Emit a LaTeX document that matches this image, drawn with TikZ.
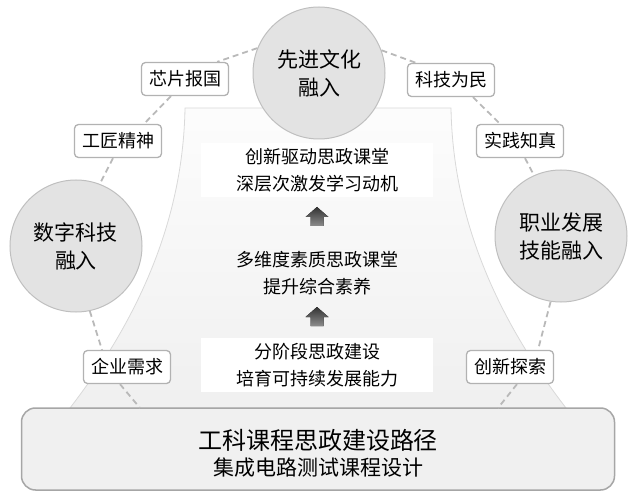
\documentclass[tikz,border=0pt]{standalone}
\usepackage{fontspec}
\newfontfamily\cjk{Noto Sans CJK SC}

\tikzset{
  theme/.style={circle,draw=gray!50,fill=gray!22,line width=1pt,minimum size=132pt,inner sep=0pt,align=center,font=\cjk\fontsize{21}{28}\selectfont},
  tag/.style={draw=gray!60,fill=white,rounded corners=4pt,line width=1.3pt,minimum width=87pt,minimum height=33pt,inner sep=0pt,font=\cjk\fontsize{18}{20}\selectfont},
  link/.style={draw=gray!55,dashed,dash pattern=on 6pt off 4pt,line width=1.8pt},
  stage/.style={align=center,inner sep=5pt,minimum width=232pt,font=\cjk\fontsize{18}{27}\selectfont},
  blockup/.pic={
    \fill[top color=black!80,bottom color=black!45]
      (0,-10) -- (11.5,0) -- (6.5,0) -- (6.5,9) -- (-6.5,9) -- (-6.5,0) -- (-11.5,0) -- cycle;
  },
  pathbox/.style={draw=gray!70,fill=gray!12,rounded corners=14pt,line width=1.5pt,minimum width=593pt,minimum height=82pt,align=center,inner sep=0pt}
}

\begin{document}
\begin{tikzpicture}[x=1pt,y=-1pt]
  \useasboundingbox (0,0) rectangle (630,492);

  % bell-shaped background
  \path[draw=gray!30,line width=0.8pt,top color=gray!2,bottom color=gray!12]
    (70,408) .. controls (130,330) and (183,230) .. (185,108) -- (451,108)
    .. controls (453,230) and (506,330) .. (566,408) -- cycle;

  \node[stage,fill=white] (drive) at (317,170) {创新驱动思政课堂\\深层次激发学习动机};
  \pic (up1) at (317,217) {blockup};
  \node[stage] (quality) at (317,273) {多维度素质思政课堂\\提升综合素养};
  \pic (up2) at (317,317) {blockup};
  \node[stage,fill=white] (phase) at (317,365) {分阶段思政建设\\培育可持续发展能力};

  \node[pathbox] (path) at (318,449) {{\fontsize{24}{28}\selectfont\cjk\rule{0pt}{29pt}工科课程思政建设路径}\\[5pt]{\fontsize{21}{26}\selectfont\cjk 集成电路测试课程设计}};
  \coordinate (leftfoot) at (140,408);
  \coordinate (rightfoot) at (498,408);

  \node[theme] (culture) at (319,73) {先进文化\\融入};
  \node[theme] (digital) at (76,246) {数字科技\\融入};
  \node[theme] (career) at (561,236) {职业发展\\技能融入};

  \node[tag] (chip) at (185,79) {芯片报国};
  \node[tag] (craft) at (118,141) {工匠精神};
  \node[tag] (demand) at (127,367) {企业需求};
  \node[tag] (people) at (451,80) {科技为民};
  \node[tag] (practice) at (520,141) {实践知真};
  \node[tag] (explore) at (510,367) {创新探索};

  \draw[link] (culture.158) -- ([xshift=-12pt]chip.north east);
  \draw[link] ([xshift=-14pt]chip.south) -- ([xshift=26pt]craft.north);
  \draw[link] ([xshift=-5pt]craft.south) -- (digital.69);
  \draw[link] (digital.282) -- ([xshift=-25pt]demand.north);
  \draw[link] ([xshift=-7pt]demand.south) -- (leftfoot);
  \draw[link] (culture.20) -- ([xshift=-35pt]people.north);
  \draw[link] ([xshift=22pt]people.south) -- ([xshift=-20pt]practice.north);
  \draw[link] ([xshift=5pt]practice.south) -- (career.114);
  \draw[link] (career.261) -- ([xshift=28pt]explore.north);
  \draw[link] ([xshift=7pt]explore.south) -- (rightfoot);
\end{tikzpicture}
\end{document}
